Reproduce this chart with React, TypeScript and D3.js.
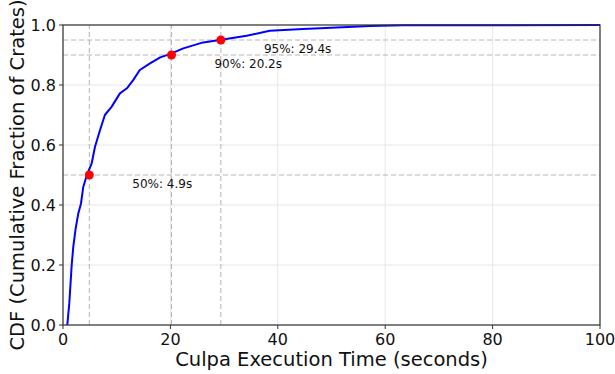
import React from 'react'
import * as d3 from 'd3'

// CDF curve (seconds, cumulative fraction)
const times = [0.8, 1.17, 1.62, 1.92, 2.36, 2.85, 3.35, 3.78, 4.45, 5.34, 5.96, 6.9, 7.8, 9.07, 10.6, 11.9, 13.1, 14.3, 16.2, 18.1, 19.9, 22.4, 26.1, 29.2, 34.2, 38.5, 44.7, 51, 57.2, 63.3, 100]
const fractions = [0, 0.072, 0.2, 0.261, 0.322, 0.372, 0.405, 0.461, 0.5, 0.539, 0.594, 0.65, 0.7, 0.728, 0.772, 0.789, 0.817, 0.85, 0.872, 0.892, 0.903, 0.922, 0.942, 0.95, 0.964, 0.981, 0.987, 0.992, 0.997, 0.999, 1.0]

// percentile markers
const pctLevels = [0.5, 0.9, 0.95]
const pctTimes = [4.9, 20.2, 29.4]
const pctLabels = ['50%: 4.9s', '90%: 20.2s', '95%: 29.4s']

const xTicks = [0, 20, 40, 60, 80, 100]
const yTicks = [0, 0.2, 0.4, 0.6, 0.8, 1.0]

export default function App() {
    const width = 615
    const height = 374

    // SVG margin variables
    const marginLeft = 63
    const marginRight = 15
    const marginTop = 25
    const marginBottom = 49

    const xScale = d3.scaleLinear().domain([0, 100]).range([marginLeft, width - marginRight])
    const yScale = d3.scaleLinear().domain([0, 1]).range([height - marginBottom, marginTop])

    const line = d3.line<number>()
        .x((d, i) => xScale(times[i]))
        .y(d => yScale(d))

    const x0 = xScale(0), x1 = xScale(100)
    const y0 = yScale(0), y1 = yScale(1)
    const font = 'DejaVu Sans, sans-serif'

    return (
        <svg width={width} height={height} style={{ position: 'absolute', left: 0, top: 0, background: 'white' }}>
            {/* grid */}
            <g stroke="#e6e6e6" strokeWidth={1}>
                {xTicks.map(t => <line key={'gx' + t} x1={xScale(t)} x2={xScale(t)} y1={y0} y2={y1} />)}
                {yTicks.map(t => <line key={'gy' + t} x1={x0} x2={x1} y1={yScale(t)} y2={yScale(t)} />)}
            </g>
            {/* percentile reference lines */}
            <g stroke="#b4b4b4" strokeWidth={1} strokeDasharray="5,3" fill="none">
                {pctLevels.map(p => <line key={'h' + p} x1={x0} x2={x1} y1={yScale(p)} y2={yScale(p)} />)}
                {pctTimes.map(t => <line key={'v' + t} x1={xScale(t)} x2={xScale(t)} y1={y0} y2={y1} />)}
            </g>
            {/* curve */}
            <path d={line(fractions) || ''} fill="none" stroke="#0000ff" strokeWidth={2} strokeLinejoin="round" />
            {/* markers */}
            {pctTimes.map((t, i) => (
                <circle key={'c' + t} cx={xScale(t)} cy={yScale(pctLevels[i])} r={4.5} fill="#ff0000" />
            ))}
            {pctTimes.map((t, i) => (
                <text key={'l' + t} x={xScale(t) + 43} y={yScale(pctLevels[i]) + 12.5} fontSize={12} fontFamily={font} fill="#111">
                    {pctLabels[i]}
                </text>
            ))}
            {/* spines */}
            <rect x={x0} y={y1} width={x1 - x0} height={y0 - y1} fill="none" stroke="#333" strokeWidth={1.2} />
            {/* x axis ticks */}
            {xTicks.map(t => (
                <g key={'xt' + t}>
                    <line x1={xScale(t)} x2={xScale(t)} y1={y0} y2={y0 + 4} stroke="#333" />
                    <text x={xScale(t)} y={y0 + 20} textAnchor="middle" fontSize={16} fontFamily={font} fill="#111">{t}</text>
                </g>
            ))}
            {/* y axis ticks */}
            {yTicks.map(t => (
                <g key={'yt' + t}>
                    <line x1={x0 - 4} x2={x0} y1={yScale(t)} y2={yScale(t)} stroke="#333" />
                    <text x={x0 - 7} y={yScale(t)} dy="0.35em" textAnchor="end" fontSize={16} fontFamily={font} fill="#111">{d3.format('.1f')(t)}</text>
                </g>
            ))}
            <text x={(x0 + x1) / 2} y={366} textAnchor="middle" fontSize={19.5} fontFamily={font} fill="#111">
                Culpa Execution Time (seconds)
            </text>
            <text transform={`translate(24,${(y0 + y1) / 2}) rotate(-90)`} textAnchor="middle" fontSize={19.5} fontFamily={font} fill="#111">
                CDF (Cumulative Fraction of Crates)
            </text>
        </svg>
    )
}
